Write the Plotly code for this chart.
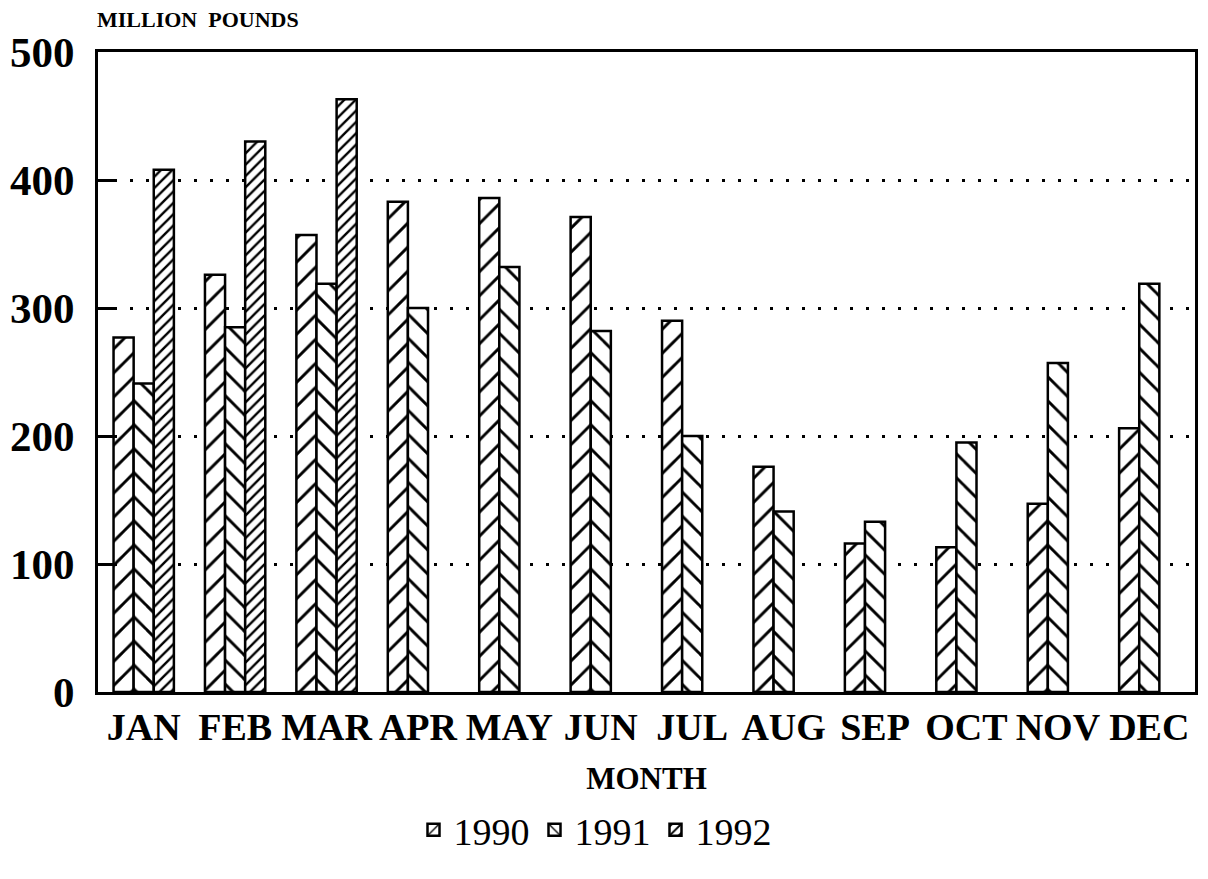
import plotly.graph_objects as go

months = ["JAN", "FEB", "MAR", "APR", "MAY", "JUN", "JUL", "AUG", "SEP", "OCT", "NOV", "DEC"]
y1990 = [277, 326, 357, 383, 386, 371, 290, 176, 116, 113, 147, 206]
y1991 = [241, 285, 319, 300, 332, 282, 200, 141, 133, 195, 257, 319]
y1992 = [408, 430, 463, None, None, None, None, None, None, None, None, None]
ytick_vals = [0, 100, 200, 300, 400, 500]

SERIF = "Liberation Serif"

# the page body has an 8px margin; size the figure so no scrollbars appear
W, H, OFF = 1192, 861, 8
PLOT_L, PLOT_R, PLOT_T, PLOT_B = 95, 1198, 52, 692  # in window pixels

series = [
    ("1990", y1990, "/", 17, 0.17),
    ("1991", y1991, "\\", 17, 0.17),
    ("1992", y1992, "/", 8, 0.30),
]

fig = go.Figure()
for name, vals, shape, size, sol in series:
    fig.add_trace(go.Bar(
        name=name, x=months, y=vals,
        marker=dict(
            color="white",
            line=dict(color="black", width=2.5),
            pattern=dict(shape=shape, fgcolor="black", bgcolor="white",
                         fgopacity=1, size=size, solidity=sol, fillmode="replace"),
        ),
    ))

plot_h = PLOT_B - PLOT_T
fig.update_layout(
    width=W, height=H,
    margin=dict(l=PLOT_L - OFF, r=W - (PLOT_R - OFF), t=PLOT_T - OFF, b=H - (PLOT_B - OFF)),
    paper_bgcolor="white", plot_bgcolor="white",
    barmode="group", bargap=0.34, bargroupgap=0,
    font=dict(family=SERIF, color="black"),
    showlegend=True,
    legend=dict(orientation="h",
                xref="container", x=(595 - OFF) / W, xanchor="center",
                yref="container", y=1 - (830 - OFF) / H, yanchor="middle",
                font=dict(family=SERIF, size=38, color="black"),
                itemwidth=30, tracegroupgap=0),
    xaxis=dict(
        showline=True, linecolor="black", linewidth=2.5, mirror=True,
        ticks="", showgrid=False,
        tickfont=dict(family=SERIF, size=38, color="black", weight="bold"),
        title=dict(text="MONTH", font=dict(family=SERIF, size=31, color="black", weight="bold"),
                   standoff=20),
    ),
    yaxis=dict(
        range=[0, 500], tickvals=ytick_vals,
        showline=True, linecolor="black", linewidth=3, mirror=True,
        ticks="inside", ticklen=19, tickwidth=2.5, tickcolor="black",
        showgrid=True, gridcolor="black", gridwidth=2.5, griddash="2.5px,13.5px",
        zeroline=False,
        tickfont=dict(family=SERIF, size=43, color="black", weight="bold"),
        ticklabelstandoff=12,
    ),
    annotations=[dict(
        text="MILLION  POUNDS", xref="paper", x=0, xanchor="left", xshift=-3,
        yref="paper", y=(PLOT_B - 20) / plot_h, yanchor="middle", showarrow=False,
        font=dict(family=SERIF, size=22, color="black", weight="bold"),
    )],
)

fig.write_html("out.html")
